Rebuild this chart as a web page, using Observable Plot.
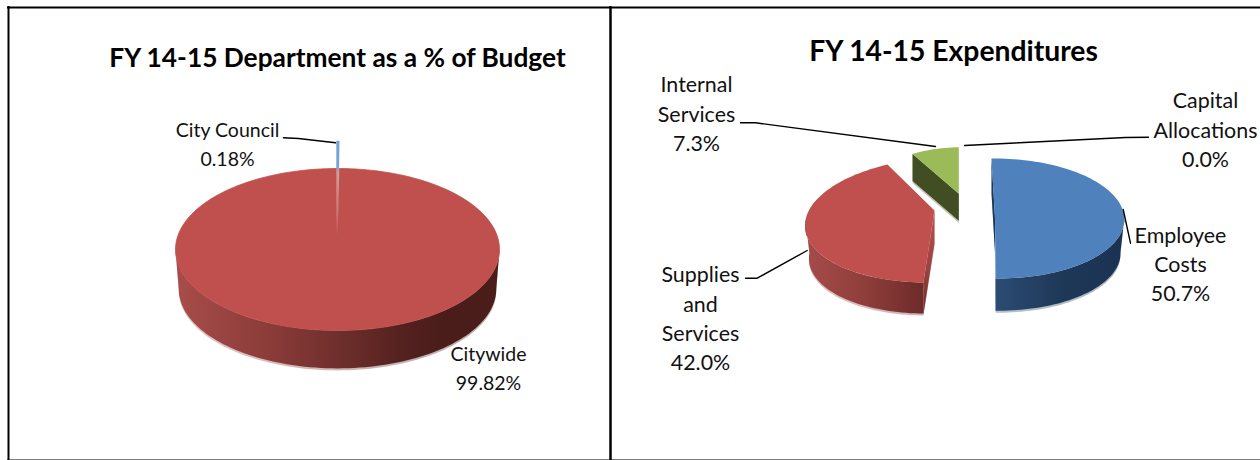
<!DOCTYPE html>
<html>
<head>
<meta charset="utf-8">
<style>
  html, body { margin: 0; padding: 0; background: #fff; }
  .pie path { filter: blur(0.45px); }
</style>
<script src="https://cdn.jsdelivr.net/npm/d3@7"></script>
<script src="https://cdn.jsdelivr.net/npm/@observablehq/plot@0.6"></script>
</head>
<body>
<div id="chart"></div>
<script>
// ---- chart values ----
const deptNames = ["City Council", "Citywide"];
const deptValues = [0.18, 99.82];
const deptTitle = "FY 14-15 Department as a % of Budget";

const expNames = ["Employee\nCosts", "Supplies\nand\nServices", "Internal\nServices", "Capital\nAllocations"];
const expValues = [50.7, 42.0, 7.3, 0.0];
const expTitle = "FY 14-15 Expenditures";

// ---- fake-3D frames: how each slice's ellipse is placed ----
const deg = Math.PI / 180;
const deptFrames = [
  {cx: 336.5, cy: 222, rx: 162, ry: 81, k: 0, ax: 336.5, ay: 235, d: 0, s: 1, top: "url(#stripe)", stroke: "url(#stripe)", sw: 1.4},
  {cx: 337, cy: 249, rx: 162, ry: 81, k: 0, ax: 337, ay: 235, d: 39.5, s: 0.98, top: "#bf504d", stroke: "#bf504d", sw: 0.8, wall: "url(#wallDept)"}
];
const expFrames = [
  {cx: 995.8, cy: 218, rx: 128, ry: 60, k: 2, ax: 994.5, ay: 218, d: 34, s: 0.97, top: "#4f81bd", wall: "url(#wallBlue)", inner: "#1d3758"},
  {cx: 937.8, cy: 219.5, rx: 132.8, ry: 62.5, k: -11.9, ax: 934, ay: 210, d: 33, s: 0.97, top: "#c0504d", wall: "url(#wallRed)", inner: "url(#sideRed)"},
  {cx: 960.6, cy: 206.7, rx: 105, ry: 60, k: 0, ax: 958.3, ay: 193.3, d: 27, s: 1, top: "#9bbb59", inner: "#414d22"},
  null
];

// ---- labels and leaders ----
const pct = (v, digits) => v.toFixed(digits) + "%";
const deptLabelRows = [
  {text: deptNames[0] + "\n" + pct(deptValues[0], 2), x: 227, base: 129},
  {text: deptNames[1] + "\n" + pct(deptValues[1], 2), x: 488, base: 353}
];
const expLabelRows = [
  {text: expNames[0] + "\n" + pct(expValues[0], 1), x: 1180, base: 236.5},
  {text: expNames[1] + "\n" + pct(expValues[1], 1), x: 700, base: 276},
  {text: expNames[2] + "\n" + pct(expValues[2], 1), x: 696, base: 86},
  {text: expNames[3] + "\n" + pct(expValues[3], 1), x: 1205, base: 102}
];
const leaders = [
  [[283, 137.3], [298, 138], [335, 142.3]],
  [[740, 122.3], [755, 122.3], [935, 146]],
  [[1148, 136.7], [1125, 137], [964, 145]],
  [[1122.7, 209], [1130, 242.7]],
  [[745, 277.7], [756.7, 277.7], [806.7, 250]]
];

// ---- geometry from values ----
function angles(values, start) {
  const total = d3.sum(values);
  let a = start;
  return values.map(v => { const a0 = a; a += v / total * 360; return [a0, a]; });
}
const pt = (f, a, s = 1, d = 0) => {
  const sn = Math.sin(a * deg), cs = Math.cos(a * deg);
  return {px: f.cx + f.rx * s * sn - f.k * cs, py: f.cy + f.ry * s * -cs + d};
};
const arc = (f, a0, a1, s = 1, d = 0) => {
  const n = Math.max(2, Math.ceil(Math.abs(a1 - a0) / 2));
  return d3.range(n + 1).map(i => pt(f, a0 + (a1 - a0) * i / n, s, d));
};
const topFace = (f, a0, a1) => [{px: f.ax, py: f.ay}, ...arc(f, a0, a1)];
const outerWall = (f, a0, a1, extra = 0) => {
  const lo = Math.max(a0, 90), hi = Math.min(a1, 270);
  return [...arc(f, lo, hi), ...arc(f, hi, lo, f.s, f.d + extra)];
};
const innerWall = (f, a, extra = 0) => [
  pt(f, a), {px: f.ax, py: f.ay},
  {px: f.ax, py: f.ay + f.d + extra}, pt(f, a, f.s, f.d + extra)
];
const poly = (pts, fill, o = {}) => Plot.line(pts, {
  x: "px", y: "py", curve: "linear-closed", fill,
  stroke: o.stroke ?? "none", strokeWidth: o.sw ?? 0, fillOpacity: o.fo ?? 1
});

function pieMarks(values, frames, start) {
  const spans = angles(values, start);
  const marks = [];
  frames.forEach((f, i) => {
    if (!f || values[i] === 0) return;
    const [a0, a1] = spans[i];
    if (f.wall) {
      marks.push(poly(outerWall(f, a0, a1, 2), f.wall, {fo: 0.35}));
      marks.push(poly(outerWall(f, a0, a1), f.wall));
    }
    if (f.inner) {
      marks.push(poly(innerWall(f, a0, 2), f.inner, {fo: 0.35}));
      marks.push(poly(innerWall(f, a0), f.inner));
    }
  });
  frames.map((f, i) => [f, i]).reverse().forEach(([f, i]) => {
    if (!f || values[i] === 0) return;
    const [a0, a1] = spans[i];
    marks.push(poly(topFace(f, a0, a1), f.top, {stroke: f.stroke, sw: f.sw}));
  });
  return marks;
}

// gradient definitions used by the walls
function gradients() {
  const defs = d3.create("svg:defs");
  const grad = (id, stops, vertical) => {
    const g = defs.append("linearGradient").attr("id", id)
      .attr("x1", 0).attr("y1", 0).attr("x2", vertical ? 0 : 1).attr("y2", vertical ? 1 : 0);
    stops.forEach(([o, c]) => g.append("stop").attr("offset", o).attr("stop-color", c));
  };
  grad("wallDept", [[0, "#a84d4a"], [0.3, "#8a3b38"], [0.5, "#6f2f2c"], [0.7, "#54211f"], [0.82, "#4a1d1b"], [1, "#4a1d1b"]]);
  grad("wallBlue", [[0, "#2c4c74"], [0.5, "#1e3858"], [1, "#1b3352"]]);
  grad("wallRed", [[0, "#a64c49"], [0.5, "#8f3e3b"], [1, "#6d2b29"]]);
  grad("sideRed", [[0, "#b8504d"], [0.55, "#9b4441"], [1, "#6d2b29"]], true);
  grad("stripe", [[0, "#76a2d8"], [0.27, "#76a2d8"], [0.33, "#d09a98"], [0.75, "#c97a77"], [1, "#c0504d"]], true);
  return defs.node();
}

const textFont = "Lato, 'Open Sans', sans-serif";
const labelMark = (rows, size) => Plot.text(rows, {
  x: "x", y: d => d.base - 0.71 * size, text: "text",
  fontFamily: textFont, fontSize: size, lineHeight: 29.4 / size,
  lineAnchor: "top", textAnchor: "middle", fill: "#111"
});
const titleMark = (text, x, base, size) => Plot.text([text], {
  x: () => x, y: () => base - 0.71 * size, text: d => d,
  fontFamily: textFont, fontSize: size, fontWeight: "bold",
  lineAnchor: "top", textAnchor: "middle", fill: "#000"
});

const plot = Plot.plot({
  width: 1260, height: 460,
  margin: 0,
  x: {domain: [0, 1260], range: [0, 1260], axis: null},
  y: {domain: [0, 460], range: [0, 460], axis: null},
  style: {background: "#fff"},
  marks: [
    gradients,
    Plot.ruleX([8], {y1: 6, y2: 460, stroke: "#000", strokeWidth: 2}),
    Plot.ruleX([610], {y1: 6, y2: 460, stroke: "#000", strokeWidth: 2.5}),
    Plot.ruleY([7], {x1: 7, x2: 1260, stroke: "#000", strokeWidth: 2}),
    Plot.ruleY([459.5], {x1: 7, x2: 1260, stroke: "#000", strokeWidth: 1}),
    ...pieMarks(deptValues, deptFrames, 0),
    ...pieMarks(expValues, expFrames, -1.25),
    ...leaders.map(l => Plot.line(l, {x: d => d[0], y: d => d[1], stroke: "#000", strokeWidth: 1.4, curve: "linear"})),
    labelMark(deptLabelRows, 19.5),
    labelMark(expLabelRows, 21.4),
    titleMark(deptTitle, 337, 66.5, 26.3),
    titleMark(expTitle, 953, 60, 28.3)
  ]
});
plot.classList.add("pie");
document.getElementById("chart").appendChild(plot);
</script>
</body>
</html>
